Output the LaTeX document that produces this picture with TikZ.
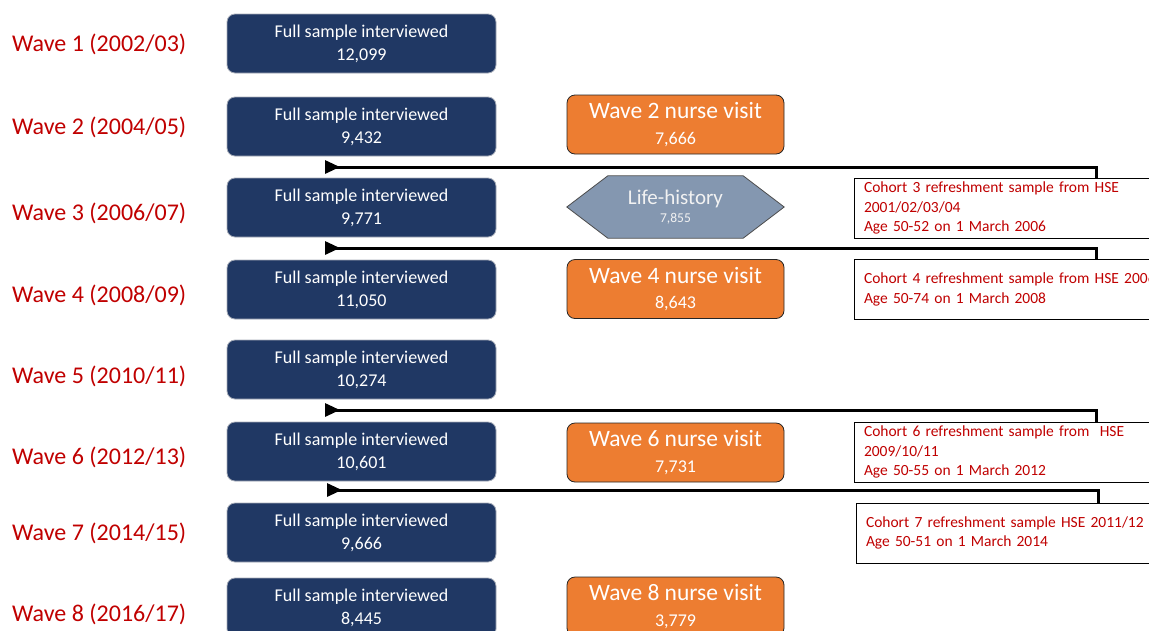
\documentclass[tikz,border=0pt]{standalone}
\usepackage{fontspec}
\setmainfont{Carlito}
\usetikzlibrary{arrows.meta,backgrounds}
\definecolor{navy}{HTML}{203864}
\definecolor{boxgray}{HTML}{A6ACB8}
\definecolor{nurseorange}{HTML}{ED7D31}
\definecolor{hexblue}{HTML}{8497B0}
\definecolor{wavered}{HTML}{C00000}
\begin{document}
\begin{tikzpicture}[x=1pt,y=-1pt,
  wavelabel/.style={anchor=west, text=wavered, font=\fontsize{24}{28}\selectfont, inner sep=0pt},
  fullbox/.style={rectangle, rounded corners=8pt, fill=navy, draw=boxgray, line width=0.8pt,
    minimum width=269pt, minimum height=59pt, text=white, align=center,
    font=\fontsize{18}{23}\selectfont, inner sep=0pt},
  nursebox/.style={rectangle, rounded corners=8pt, fill=nurseorange, draw=black!85, line width=0.8pt,
    minimum width=217pt, minimum height=59pt, text=white, align=center,
    font=\fontsize{18}{25.2}\selectfont, inner sep=0pt},
  hextext/.style={minimum width=217pt, minimum height=62pt, inner sep=0pt, text=white!95!black,
    align=center, font=\fontsize{13.5}{17.6}\selectfont},
  hexfill/.style={fill=hexblue, draw=black!70, line width=0.8pt},
  cohortbox/.style={rectangle, draw=black, line width=0.8pt, fill=white, minimum width=484pt,
    minimum height=60pt, text width=464pt, align=left, text=wavered,
    font=\fontsize{15.5}{19.5}\selectfont},
  feed/.style={draw=black, line width=3pt, -{Triangle[reversed,length=15pt,width=13pt]}},
]
\useasboundingbox (0,0) rectangle (1149,630);
\clip (0,0) rectangle (1149,630);

% wave labels
\node[wavelabel] (w1) at (12,44)  {Wave 1 (2002/03)};
\node[wavelabel] (w2) at (12,127) {Wave 2 (2004/05)};
\node[wavelabel] (w3) at (12,213) {Wave 3 (2006/07)};
\node[wavelabel] (w4) at (12,295) {Wave 4 (2008/09)};
\node[wavelabel] (w5) at (12,376) {Wave 5 (2010/11)};
\node[wavelabel] (w6) at (12,457) {Wave 6 (2012/13)};
\node[wavelabel] (w7) at (12,533) {Wave 7 (2014/15)};
\node[wavelabel] (w8) at (12,614) {Wave 8 (2016/17)};

% core sample at each wave
\node[fullbox] (f1) at (361.5,43.5)  {Full sample interviewed\\12,099};
\node[fullbox] (f2) at (361.5,126.5) {Full sample interviewed\\9,432};
\node[fullbox] (f3) at (361.5,207.5) {Full sample interviewed\\9,771};
\node[fullbox] (f4) at (361.5,289.5) {Full sample interviewed\\11,050};
\node[fullbox] (f5) at (361.5,369.5) {Full sample interviewed\\10,274};
\node[fullbox] (f6) at (361.5,451.5) {Full sample interviewed\\10,601};
\node[fullbox] (f7) at (361.5,532.5) {Full sample interviewed\\9,666};
\node[fullbox] (f8) at (361.5,607.5) {Full sample interviewed\\8,445};

% nurse visits
\node[nursebox] (n2) at (675.5,124.5) {{\fontsize{23.5}{25.2}\selectfont Wave 2 nurse visit}\\7,666};
\node[nursebox] (n4) at (675.5,289)   {{\fontsize{23.5}{25.2}\selectfont Wave 4 nurse visit}\\8,643};
\node[nursebox] (n6) at (675.5,452.5) {{\fontsize{23.5}{25.2}\selectfont Wave 6 nurse visit}\\7,731};
\node[nursebox] (n8) at (675.5,606.5) {{\fontsize{23.5}{25.2}\selectfont Wave 8 nurse visit}\\3,779};

% life-history interview
\node[hextext] (lh) at (675.5,207) {{\fontsize{21}{17.6}\selectfont Life-history}\\7,855};
\begin{pgfonlayer}{background}
\filldraw[hexfill] (lh.west) -- ([xshift=41pt]lh.north west) -- ([xshift=-41pt]lh.north east)
  -- (lh.east) -- ([xshift=-41pt]lh.south east) -- ([xshift=41pt]lh.south west) -- cycle;
\end{pgfonlayer}

% refreshment samples
\node[cohortbox] (c3) at (1096,208)   {Cohort 3 refreshment sample from HSE\\2001/02/03/04\\Age 50-52 on 1 March 2006};
\node[cohortbox] (c4) at (1096,289.5) {Cohort 4 refreshment sample from HSE 2006\\Age 50-74 on 1 March 2008};
\node[cohortbox] (c6) at (1096,452)   {Cohort 6 refreshment sample from \ HSE\\2009/10/11\\Age 50-55 on 1 March 2012};
\node[cohortbox] (c7) at (1098,533)   {Cohort 7 refreshment sample HSE 2011/12\\Age 50-51 on 1 March 2014};

% refreshment samples feed into the wave's core sample
\coordinate (t3) at (325,167);
\coordinate (t4) at (325,248);
\coordinate (t6) at (325,410);
\coordinate (t7) at (327,490);
\draw[feed] (c3.north) |- (t3);
\draw[feed] (c4.north) |- (t4);
\draw[feed] (c6.north) |- (t6);
\draw[feed] (c7.north) |- (t7);
\end{tikzpicture}
\end{document}
